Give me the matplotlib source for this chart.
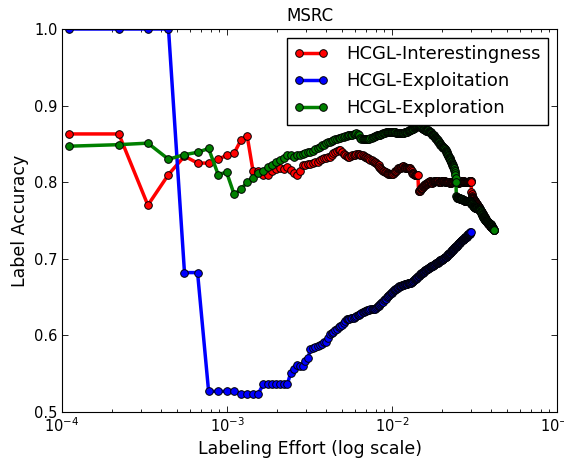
import numpy as np
import matplotlib
matplotlib.use("Agg")
import matplotlib.pyplot as plt

# labeling effort = number of labeled nodes / total nodes
total_nodes = 9050

acc_interestingness = [
    0.863, 0.863, 0.770, 0.810, 0.834, 0.825, 0.825, 0.830, 0.835, 0.838,
    0.855, 0.860, 0.815, 0.815, 0.809, 0.809, 0.814, 0.817, 0.818, 0.817,
    0.820, 0.816, 0.812, 0.809, 0.815, 0.822, 0.823, 0.824, 0.824, 0.825,
    0.826, 0.827, 0.829, 0.830, 0.831, 0.832, 0.833, 0.833, 0.835, 0.838,
    0.840, 0.841, 0.842, 0.842, 0.840, 0.837, 0.836, 0.834, 0.833, 0.833,
    0.834, 0.835, 0.835, 0.836, 0.837, 0.837, 0.837, 0.836, 0.835, 0.835,
    0.834, 0.833, 0.833, 0.832, 0.831, 0.830, 0.829, 0.829, 0.828, 0.827,
    0.826, 0.825, 0.824, 0.823, 0.822, 0.820, 0.818, 0.817, 0.816, 0.815,
    0.814, 0.813, 0.813, 0.812, 0.812, 0.811, 0.811, 0.811, 0.811, 0.811,
    0.811, 0.811, 0.812, 0.813, 0.814, 0.815, 0.816, 0.817, 0.818, 0.818,
    0.819, 0.819, 0.820, 0.820, 0.821, 0.821, 0.820, 0.820, 0.819, 0.819,
    0.818, 0.818, 0.818, 0.818, 0.818, 0.818, 0.817, 0.816, 0.814, 0.812,
    0.812, 0.811, 0.811, 0.810, 0.810, 0.810, 0.809, 0.809, 0.809, 0.809,
    0.789, 0.788, 0.789, 0.790, 0.791, 0.792, 0.792, 0.793, 0.794, 0.795,
    0.795, 0.796, 0.796, 0.797, 0.797, 0.798, 0.798, 0.799, 0.799, 0.800,
    0.800, 0.800, 0.801, 0.801, 0.800, 0.800, 0.800, 0.799, 0.799, 0.800,
    0.800, 0.800, 0.801, 0.801, 0.801, 0.802, 0.802, 0.801, 0.801, 0.801,
    0.801, 0.801, 0.801, 0.800, 0.800, 0.800, 0.800, 0.800, 0.800, 0.800,
    0.801, 0.801, 0.802, 0.802, 0.802, 0.802, 0.801, 0.801, 0.801, 0.800,
    0.800, 0.800, 0.800, 0.800, 0.800, 0.800, 0.800, 0.800, 0.800, 0.800,
    0.800, 0.799, 0.799, 0.799, 0.799, 0.799, 0.800, 0.800, 0.800, 0.800,
    0.800, 0.800, 0.800, 0.801, 0.801, 0.801, 0.801, 0.801, 0.800, 0.800,
    0.800, 0.800, 0.800, 0.800, 0.800, 0.799, 0.799, 0.799, 0.799, 0.800,
    0.800, 0.800, 0.800, 0.800, 0.800, 0.800, 0.800, 0.800, 0.801, 0.801,
    0.801, 0.801, 0.801, 0.801, 0.801, 0.801, 0.800, 0.800, 0.800, 0.800,
    0.800, 0.800, 0.800, 0.800, 0.800, 0.800, 0.800, 0.800, 0.800, 0.800,
    0.800, 0.800, 0.800, 0.800, 0.800, 0.801, 0.801, 0.801, 0.801, 0.801,
    0.801, 0.801, 0.800, 0.787, 0.785, 0.782, 0.781, 0.780, 0.779, 0.779,
    0.778, 0.778, 0.777, 0.777, 0.776, 0.776, 0.775, 0.775, 0.774, 0.774,
    0.773, 0.773, 0.772, 0.772, 0.771, 0.771, 0.770, 0.770, 0.769, 0.769,
    0.768, 0.768, 0.767, 0.767, 0.766, 0.766, 0.765, 0.765, 0.764, 0.764,
    0.763, 0.763, 0.762, 0.762, 0.761, 0.761, 0.760, 0.760, 0.759, 0.759,
    0.758, 0.758, 0.757, 0.757, 0.756, 0.756, 0.755, 0.755, 0.754, 0.754,
    0.753, 0.753, 0.752, 0.752, 0.751, 0.751, 0.750, 0.750, 0.749, 0.749,
    0.748, 0.748, 0.748, 0.747, 0.747, 0.747, 0.746, 0.746, 0.746, 0.745,
    0.745, 0.745, 0.744, 0.744, 0.744, 0.743, 0.743, 0.743, 0.742, 0.742,
    0.741, 0.741,
]

acc_exploitation = [
    1.000, 1.000, 1.000, 1.000, 0.682, 0.682, 0.527, 0.527, 0.527, 0.527,
    0.524, 0.524, 0.524, 0.524, 0.536, 0.536, 0.536, 0.536, 0.536, 0.536,
    0.536, 0.551, 0.556, 0.561, 0.560, 0.560, 0.567, 0.570, 0.582, 0.584,
    0.585, 0.586, 0.588, 0.589, 0.591, 0.592, 0.596, 0.602, 0.603, 0.605,
    0.607, 0.609, 0.611, 0.612, 0.614, 0.616, 0.619, 0.621, 0.622, 0.622,
    0.623, 0.623, 0.623, 0.624, 0.625, 0.626, 0.627, 0.628, 0.629, 0.630,
    0.631, 0.632, 0.632, 0.633, 0.633, 0.633, 0.634, 0.634, 0.634, 0.634,
    0.635, 0.636, 0.637, 0.638, 0.639, 0.640, 0.641, 0.642, 0.643, 0.644,
    0.646, 0.647, 0.648, 0.650, 0.651, 0.652, 0.653, 0.654, 0.655, 0.656,
    0.657, 0.658, 0.659, 0.659, 0.660, 0.661, 0.662, 0.662, 0.663, 0.664,
    0.665, 0.665, 0.665, 0.666, 0.666, 0.666, 0.666, 0.667, 0.667, 0.667,
    0.667, 0.667, 0.668, 0.668, 0.668, 0.669, 0.669, 0.669, 0.670, 0.670,
    0.671, 0.671, 0.672, 0.673, 0.673, 0.674, 0.675, 0.675, 0.676, 0.677,
    0.677, 0.678, 0.679, 0.680, 0.680, 0.681, 0.681, 0.682, 0.682, 0.683,
    0.683, 0.684, 0.685, 0.685, 0.686, 0.686, 0.687, 0.687, 0.687, 0.688,
    0.688, 0.688, 0.689, 0.689, 0.689, 0.690, 0.690, 0.691, 0.691, 0.691,
    0.692, 0.692, 0.692, 0.693, 0.693, 0.693, 0.694, 0.694, 0.694, 0.695,
    0.695, 0.696, 0.696, 0.696, 0.697, 0.697, 0.698, 0.698, 0.698, 0.699,
    0.699, 0.699, 0.700, 0.700, 0.700, 0.701, 0.701, 0.701, 0.702, 0.702,
    0.703, 0.703, 0.703, 0.704, 0.704, 0.705, 0.705, 0.706, 0.706, 0.706,
    0.707, 0.707, 0.708, 0.708, 0.709, 0.709, 0.710, 0.710, 0.711, 0.711,
    0.712, 0.712, 0.713, 0.713, 0.714, 0.714, 0.715, 0.715, 0.715, 0.716,
    0.716, 0.717, 0.717, 0.717, 0.718, 0.718, 0.719, 0.719, 0.720, 0.720,
    0.720, 0.721, 0.721, 0.722, 0.722, 0.723, 0.723, 0.723, 0.724, 0.724,
    0.724, 0.725, 0.725, 0.725, 0.726, 0.726, 0.726, 0.727, 0.727, 0.727,
    0.728, 0.728, 0.728, 0.729, 0.729, 0.729, 0.730, 0.730, 0.731, 0.731,
    0.731, 0.732, 0.732, 0.732, 0.733, 0.733, 0.733, 0.734, 0.734, 0.735,
    0.735,
]

acc_exploration = [
    0.847, 0.849, 0.851, 0.830, 0.836, 0.839, 0.844, 0.810, 0.813, 0.784,
    0.791, 0.800, 0.806, 0.812, 0.815, 0.820, 0.823, 0.826, 0.829, 0.831,
    0.835, 0.836, 0.833, 0.835, 0.836, 0.837, 0.838, 0.839, 0.840, 0.841,
    0.843, 0.844, 0.846, 0.848, 0.849, 0.851, 0.852, 0.853, 0.854, 0.855,
    0.856, 0.857, 0.858, 0.858, 0.859, 0.859, 0.860, 0.860, 0.861, 0.861,
    0.862, 0.862, 0.863, 0.863, 0.864, 0.863, 0.861, 0.858, 0.857, 0.857,
    0.856, 0.856, 0.856, 0.856, 0.857, 0.857, 0.858, 0.858, 0.859, 0.859,
    0.860, 0.860, 0.861, 0.861, 0.861, 0.862, 0.862, 0.863, 0.863, 0.864,
    0.864, 0.864, 0.865, 0.865, 0.865, 0.866, 0.866, 0.866, 0.866, 0.866,
    0.866, 0.866, 0.865, 0.865, 0.865, 0.864, 0.864, 0.864, 0.864, 0.864,
    0.864, 0.864, 0.864, 0.864, 0.864, 0.864, 0.864, 0.865, 0.865, 0.865,
    0.866, 0.866, 0.867, 0.867, 0.868, 0.868, 0.868, 0.868, 0.869, 0.870,
    0.870, 0.870, 0.871, 0.871, 0.872, 0.872, 0.873, 0.873, 0.874, 0.874,
    0.874, 0.874, 0.873, 0.873, 0.872, 0.872, 0.871, 0.871, 0.870, 0.870,
    0.869, 0.869, 0.868, 0.868, 0.868, 0.867, 0.867, 0.867, 0.868, 0.868,
    0.867, 0.866, 0.866, 0.865, 0.865, 0.864, 0.864, 0.863, 0.862, 0.862,
    0.861, 0.861, 0.860, 0.859, 0.859, 0.858, 0.858, 0.857, 0.856, 0.855,
    0.855, 0.854, 0.853, 0.852, 0.852, 0.851, 0.850, 0.849, 0.849, 0.848,
    0.847, 0.847, 0.846, 0.846, 0.845, 0.845, 0.844, 0.844, 0.843, 0.843,
    0.842, 0.841, 0.840, 0.839, 0.838, 0.837, 0.836, 0.835, 0.834, 0.833,
    0.832, 0.831, 0.830, 0.829, 0.828, 0.827, 0.826, 0.825, 0.824, 0.823,
    0.822, 0.821, 0.820, 0.819, 0.818, 0.816, 0.814, 0.812, 0.810, 0.806,
    0.800, 0.782, 0.781, 0.781, 0.780, 0.780, 0.780, 0.780, 0.779, 0.779,
    0.779, 0.779, 0.779, 0.778, 0.778, 0.778, 0.778, 0.778, 0.778, 0.778,
    0.778, 0.778, 0.777, 0.777, 0.777, 0.777, 0.777, 0.777, 0.776, 0.776,
    0.776, 0.776, 0.776, 0.776, 0.776, 0.776, 0.776, 0.776, 0.776, 0.776,
    0.776, 0.776, 0.775, 0.775, 0.775, 0.775, 0.775, 0.775, 0.774, 0.774,
    0.774, 0.773, 0.773, 0.772, 0.772, 0.772, 0.771, 0.771, 0.770, 0.770,
    0.770, 0.769, 0.769, 0.768, 0.768, 0.768, 0.767, 0.767, 0.767, 0.766,
    0.766, 0.766, 0.766, 0.766, 0.766, 0.766, 0.766, 0.766, 0.765, 0.765,
    0.765, 0.765, 0.765, 0.765, 0.765, 0.765, 0.765, 0.764, 0.764, 0.764,
    0.764, 0.763, 0.762, 0.761, 0.760, 0.759, 0.758, 0.757, 0.757, 0.756,
    0.756, 0.755, 0.755, 0.754, 0.754, 0.753, 0.753, 0.753, 0.752, 0.752,
    0.752, 0.751, 0.751, 0.751, 0.750, 0.750, 0.750, 0.750, 0.749, 0.749,
    0.749, 0.749, 0.748, 0.748, 0.748, 0.748, 0.748, 0.747, 0.747, 0.747,
    0.747, 0.747, 0.746, 0.746, 0.746, 0.745, 0.745, 0.745, 0.744, 0.744,
    0.744, 0.743, 0.743, 0.742, 0.742, 0.741, 0.741, 0.740, 0.740, 0.740,
    0.739, 0.739, 0.739, 0.738, 0.738, 0.738, 0.738, 0.738,
]

series = [
    ("HCGL-Interestingness", acc_interestingness, "r"),
    ("HCGL-Exploitation", acc_exploitation, "b"),
    ("HCGL-Exploration", acc_exploration, "g"),
]

plt.rcParams["font.family"] = "DejaVu Sans"
plt.rcParams["font.size"] = 12
plt.rcParams["axes.unicode_minus"] = False

fig = plt.figure(figsize=(5.64, 4.62), dpi=100)
ax = fig.add_axes([62 / 564, 50 / 462, 495 / 564, 383 / 462])

for name, acc, color in series:
    effort = np.arange(1, len(acc) + 1) / total_nodes
    ax.plot(effort, acc, "-o", color=color, label=name, linewidth=2.5,
            markersize=5.5, markeredgecolor="k", markeredgewidth=0.7)

ax.set_xscale("log")
ax.set_xlim(1e-4, 1e-1)
ax.set_ylim(0.5, 1.0)
ax.set_yticks([0.5, 0.6, 0.7, 0.8, 0.9, 1.0])
ax.tick_params(which="both", direction="in", top=True, right=True, labelsize=10.5)
ax.tick_params(which="major", length=4, width=0.6, pad=3)
ax.tick_params(which="minor", length=2, width=0.6)

ax.set_title("MSRC", fontsize=12)
ax.set_xlabel("Labeling Effort (log scale)", fontsize=12.5)
ax.set_ylabel("Label Accuracy", fontsize=12.5)
ax.legend(loc="upper right", numpoints=2, fancybox=False, framealpha=1,
          edgecolor="k", fontsize=13, handlelength=1.9, handletextpad=1.0,
          borderaxespad=0.5)

fig.savefig("out.png", dpi=100)
